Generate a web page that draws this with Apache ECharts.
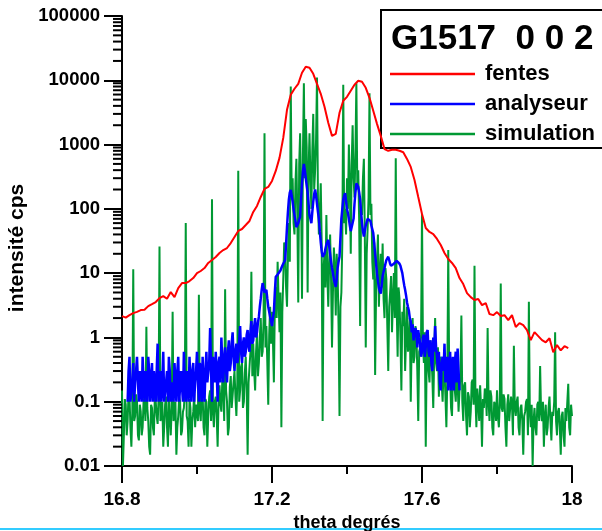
<!DOCTYPE html>
<html><head><meta charset="utf-8">
<script src="https://cdn.jsdelivr.net/npm/echarts@6/dist/echarts.min.js"></script>
<style>html,body{margin:0;padding:0;background:#fff}#c{width:602px;height:531px}</style>
</head><body><div id="c"></div>
<script>
const FONT = '"Liberation Sans", Arial, sans-serif';
const xTickLabels = ['16.8', '17.2', '17.6', '18'];
const yTickLabels = ['0.01', '0.1', '1', '10', '100', '1000', '10000', '100000'];
const seriesNames = ['fentes', 'analyseur', 'simulation'];
const minorMantissas = [2, 3, 4, 5, 6, 7, 8, 9];

const fentesStart = 16.8, fentesStep = 0.01;
const fentes = [
  2.15, 2.03, 2.22, 2.39, 2.5, 2.66, 2.7, 3.07, 3.3, 3.55,
  4.09, 4.4, 4.0, 5.08, 4.24, 5.86, 7.0, 7.0, 7.53, 8.39,
  10.0, 10.8, 12.0, 14.4, 16.0, 17.8, 20.6, 22.9, 24.6, 29.4,
  36.5, 45.3, 48.6, 56.1, 64.8, 89.5, 111, 153, 204, 219,
  272, 389, 621, 1271, 3472, 5940, 7380, 8810, 13090, 16230,
  15650, 12620, 8810, 6160, 3870, 2180, 1366, 1468, 3120, 4800,
  5530, 6860, 8510, 9820, 9460, 7640, 5340, 3350, 2100, 1366,
  850, 800, 830, 830, 800, 760, 598, 449, 282, 153,
  83.3, 50.4, 43.7, 40.6, 34.0, 27.4, 20.6, 16.6, 14.4, 12.0,
  8.39, 6.76, 4.90, 4.24, 3.81, 3.95, 3.18, 3.43, 2.31, 2.22,
  2.48, 2.15, 2.22, 1.86, 2.22, 1.45, 1.67, 1.55, 1.30, 0.91,
  1.21, 1.05, 0.91, 0.84, 0.97, 0.59, 0.76, 0.63, 0.73, 0.68
];

const analyseurStart = 16.815, analyseurStep = 0.0025;
const analyseur = [
  0.1, 0.3, 0.5, 0.1, 0.1, 0.2, 0.4, 0.1, 0.2, 0.3, 0.5, 0.2, 0.1, 0.3, 0.3, 0.1, 0.5, 0.2, 0.1, 0.3,
  0.2, 0.1, 0.5, 0.3, 0.1, 0.2, 0.4, 0.1, 0.3, 0.2, 0.1, 0.3, 0.8, 0.1, 0.2, 0.3, 0.1, 0.2, 0.6, 0.1,
  0.1, 0.2, 0.3, 0.1, 0.5, 0.3, 0.1, 0.2, 0.2, 0.1, 0.4, 0.2, 0.1, 0.3, 0.5, 0.1, 0.1, 0.3, 0.3, 0.1,
  0.6, 0.2, 0.1, 0.3, 0.2, 0.1, 0.5, 0.2, 0.1, 0.3, 0.4, 0.1, 0.2, 0.3, 0.6, 0.2, 0.1, 0.4, 0.3, 0.1,
  0.5, 0.2, 0.1, 0.3, 0.6, 0.2, 0.2, 0.4, 1.4, 0.3, 0.1, 0.5, 0.3, 0.2, 0.6, 0.3, 0.1, 0.4, 0.5, 0.2,
  1.0, 0.4, 0.2, 0.5, 0.7, 0.3, 0.2, 0.6, 0.9, 0.3, 0.4, 0.8, 1.2, 0.5, 0.3, 0.6, 0.8, 0.4, 0.5, 0.9,
  1.5, 0.6, 0.4, 0.8, 1.0, 0.5, 0.6, 1.1, 1.3, 0.7, 0.6, 1.2, 1.8, 0.8, 0.9, 1.5, 2.0, 1.0, 1.2, 1.7,
  2.1, 3.0, 4.0, 5.5, 7.0, 6.0, 5.0, 5.2, 5.5, 4.0, 3.0, 2.5, 2.1, 1.8, 1.5, 2.0, 2.5, 5.0, 8.8, 9.0,
  9.5, 9.8, 10, 11, 12, 13, 14, 15, 16, 28, 52, 90, 140, 180, 196, 160, 130, 100, 80, 65,
  52, 55, 60, 68, 75, 140, 250, 380, 500, 400, 300, 230, 180, 120, 80, 70, 60, 90, 130, 170,
  200, 160, 120, 90, 70, 45, 30, 22, 18, 19, 20, 24, 28, 30, 33, 26, 20, 15, 12, 10,
  8, 7, 6.1, 8, 12, 15, 18, 35, 70, 100, 140, 160, 175, 130, 100, 85, 70, 55, 45, 45,
  45, 70, 120, 180, 250, 240, 220, 180, 140, 90, 60, 45, 37, 45, 55, 62, 70, 72, 75, 65,
  55, 48, 42, 30, 20, 14, 9.9, 7.5, 6, 5.2, 4.8, 6.5, 9, 10.5, 12, 14, 16, 17, 18, 16,
  14, 13, 12.6, 13, 14, 14.5, 15, 15.5, 16, 15, 14, 13, 12.6, 10, 8, 6.5, 5.5, 4.5, 3.5, 3.0,
  2.6, 2.0, 1.8, 1.2, 1.6, 0.9, 0.9, 1.4, 1.2, 0.7, 1.3, 1.0, 0.8, 0.5, 0.6, 1.0, 1.1, 0.5, 0.7, 1.2,
  1.3, 0.6, 0.5, 0.9, 0.4, 0.3, 1.0, 0.6, 1.5, 0.7, 0.5, 0.3, 0.6, 0.2, 0.15, 0.4, 0.5, 0.3, 0.8, 0.2,
  0.2, 0.5, 0.15, 0.3, 0.6, 0.15, 0.3, 0.5, 0.15, 0.4, 0.6, 0.2, 0.67, 0.3, 0.15
];

const simulationStart = 16.8, simulationStep = 0.0025;
const simulation = [
  0.15, 0.01, 0.03, 0.11, 0.09, 0.03, 0.05, 0.14, 0.12, 0.04, 0.02, 0.07, 11.5, 0.05, 0.06, 0.13, 0.1, 0.03, 0.025, 0.09,
  0.07, 0.03, 0.04, 0.1, 0.12, 0.05, 1.46, 0.08, 0.05, 0.02, 0.015, 0.09, 0.08, 0.04, 0.03, 0.12, 0.1, 0.06, 0.045, 0.11,
  26, 0.05, 0.06, 0.1, 0.02, 0.04, 0.09, 0.12, 0.04, 0.02, 0.13, 0.06, 0.03, 0.08, 2.5, 0.05, 0.07, 0.1, 0.015, 0.04,
  0.06, 0.12, 0.1, 0.03, 0.035, 0.07, 0.08, 0.14, 60, 0.06, 0.05, 0.02, 0.11, 0.08, 0.02, 0.05, 0.07, 0.13, 0.04, 0.09,
  0.09, 0.05, 4.6, 0.07, 0.05, 0.16, 0.13, 0.04, 0.03, 0.11, 0.1, 0.02, 0.06, 0.12, 0.15, 0.05, 141, 0.07, 0.04, 0.1,
  0.12, 0.06, 0.02, 0.1, 0.18, 0.09, 0.07, 0.22, 0.2, 0.05, 5.6, 0.15, 0.1, 0.03, 0.04, 0.17, 0.25, 0.08, 0.08, 0.2,
  0.3, 0.12, 0.06, 0.2, 390, 0.1, 0.15, 0.35, 0.4, 0.08, 0.1, 0.28, 0.5, 0.15, 0.015, 0.2, 0.35, 0.6, 10.5, 0.25,
  0.8, 0.3, 0.15, 0.6, 1.2, 0.25, 0.4, 1.0, 2.0, 0.5, 0.6, 1.8, 1500, 0.7, 1.5, 0.4, 0.09, 1.1, 3.0, 0.8,
  2.5, 0.9, 0.2, 3, 6, 2, 15, 4, 1.2, 5, 0.04, 2.5, 8, 30, 25, 6, 3, 20, 60, 15,
  8000, 150, 300, 60, 40, 250, 600, 80, 3.5, 500, 1500, 200, 4, 700, 9000, 300, 2500, 900, 5, 400,
  1500, 300, 100, 800, 3000, 200, 400, 1200, 11000, 150, 40, 90, 250, 30, 0.05, 12, 20, 6, 80, 10,
  3, 15, 40, 8, 0.7, 5, 25, 12, 2.2, 20, 10, 1.5, 0.06, 3, 5, 30, 8500, 60, 100, 40,
  300, 100, 1000, 250, 20, 500, 2000, 300, 150, 800, 9000, 200, 400, 60, 1.5, 100, 80, 300, 600, 40,
  0.7, 20, 50, 150, 6300, 80, 120, 15, 8, 30, 0.26, 5, 15, 40, 3, 10, 20, 6, 29, 4,
  2, 12, 8, 1.5, 0.3, 3, 5, 9, 1.2, 4, 10, 2, 610, 3, 0.5, 6, 4, 1, 0.15, 2.5,
  1.5, 4, 0.3, 1, 3, 0.6, 0.8, 2, 0.1, 0.9, 2, 0.4, 0.5, 1.5, 1.2, 0.3, 0.05, 0.6, 0.7, 1.1,
  85, 0.8, 0.4, 1.2, 0.02, 0.5, 1.0, 0.3, 0.2, 0.9, 0.6, 0.25, 0.08, 0.5, 2.0, 0.4, 0.3, 0.7, 0.12, 0.45,
  0.5, 0.2, 0.1, 0.35, 0.3, 0.12, 0.04, 0.25, 23, 0.3, 0.25, 0.08, 0.06, 0.3, 0.4, 0.15, 0.1, 0.28, 0.2, 0.07,
  0.15, 0.25, 2.2, 0.1, 0.05, 0.18, 0.2, 0.06, 0.03, 0.14, 0.12, 0.04, 0.07, 0.2, 0.22, 0.09, 13, 0.12, 0.04, 0.16,
  0.1, 0.05, 0.18, 0.08, 0.02, 0.11, 0.08, 0.16, 0.14, 0.06, 1.4, 0.1, 0.05, 0.15, 0.12, 0.04, 0.03, 0.1, 0.09, 0.05,
  0.15, 0.06, 0.04, 0.1, 6.9, 0.08, 0.07, 0.13, 0.11, 0.04, 0.02, 0.09, 0.13, 0.05, 0.05, 0.12, 0.09, 0.03, 0.74, 0.08,
  0.06, 0.1, 0.12, 0.04, 0.03, 0.08, 0.09, 0.05, 0.015, 0.06, 0.07, 0.1, 0.11, 0.03, 3.6, 0.07, 0.04, 0.09, 0.01, 0.05,
  0.08, 0.04, 0.03, 0.09, 0.1, 0.05, 0.36, 0.07, 0.05, 0.1, 0.02, 0.06, 0.09, 0.03, 0.04, 0.08, 0.12, 0.05, 0.025, 0.07,
  0.06, 0.1, 1.2, 0.05, 0.03, 0.07, 0.08, 0.04, 0.015, 0.06, 0.07, 0.03, 0.02, 0.08, 0.05, 0.1, 0.19, 0.04, 0.03, 0.09, 0.06
];

function pairs(start, step, ys) {
  return ys.map((y, i) => [Math.round((start + step * i) * 100000) / 100000, y]);
}
const X_MIN = 16.8, X_MAX = 18, X_INT = 0.4;
const minorTickValues = [];
yTickLabels.slice(0, -1).forEach(d => minorMantissas.forEach(m => minorTickValues.push(m * Number(d))));

const chart = echarts.init(document.getElementById('c'), null, {renderer: 'canvas'});
chart.setOption({
  animation: false,
  backgroundColor: '#fff',
  textStyle: {fontFamily: FONT},
  title: {
    text: 'G1517  0 0 2', left: 391, top: 22, padding: 0,
    textStyle: {fontSize: 35, fontWeight: 'bold', color: '#000', fontFamily: FONT}
  },
  legend: {
    data: seriesNames, orient: 'vertical', left: 381, top: 10,
    padding: [53, 45, 3, 9], itemGap: 8, itemWidth: 85, itemHeight: 2.5, icon: 'rect',
    borderColor: '#000', borderWidth: 2, backgroundColor: '#fff', selectedMode: false,
    textStyle: {fontSize: 22, fontWeight: 'bold', color: '#000', fontFamily: FONT, padding: [0, 0, 0, 5]}
  },
  grid: {left: 122, top: 16, right: 30, bottom: 65, containLabel: false, outerBoundsMode: 'none'},
  xAxis: {
    type: 'value', min: X_MIN, max: X_MAX, interval: X_INT,
    axisLine: {lineStyle: {color: '#000', width: 2}},
    axisTick: {length: 17, lineStyle: {color: '#000', width: 2}},
    minorTick: {show: true, splitNumber: 2, length: 8, lineStyle: {color: '#000', width: 2}},
    splitLine: {show: false}, minorSplitLine: {show: false},
    axisLabel: {
      margin: 24, fontSize: 19, fontWeight: 'bold', color: '#000', fontFamily: FONT,
      formatter: v => xTickLabels[Math.round((v - X_MIN) / X_INT)]
    },
    name: 'theta degrés', nameLocation: 'middle', nameGap: 44,
    nameTextStyle: {fontSize: 18, fontWeight: 'bold', color: '#000', fontFamily: FONT}
  },
  yAxis: {
    type: 'log', logBase: 10, min: 0.01, max: 100000,
    axisLine: {lineStyle: {color: '#000', width: 2}},
    axisTick: {length: 18, lineStyle: {color: '#000', width: 2}},
    splitLine: {show: false},
    axisLabel: {
      margin: 22, fontSize: 18.5, fontWeight: 'bold', color: '#000', fontFamily: FONT,
      formatter: v => yTickLabels[Math.round(Math.log10(v)) + 2]
    },
    name: 'intensité cps', nameLocation: 'middle', nameGap: 91,
    nameTextStyle: {fontSize: 21, fontWeight: 'bold', color: '#000', fontFamily: FONT, padding: [0, 14, 0, 0]}
  },
  graphic: [{type: 'rect', left: 0, top: 528, shape: {width: 602, height: 2}, style: {fill: '#33ccff'}, silent: true}],
  series: [
    {
      name: 'simulation', type: 'line', data: pairs(simulationStart, simulationStep, simulation),
      showSymbol: false, symbol: 'none', color: '#009933', lineStyle: {color: '#009933', width: 2}, z: 2
    },
    {
      name: 'analyseur', type: 'line', data: pairs(analyseurStart, analyseurStep, analyseur),
      showSymbol: false, symbol: 'none', color: '#0000ff', lineStyle: {color: '#0000ff', width: 2.5}, z: 3
    },
    {
      name: 'fentes', type: 'line', data: pairs(fentesStart, fentesStep, fentes),
      showSymbol: false, symbol: 'none', color: '#ff0000', lineStyle: {color: '#ff0000', width: 2}, z: 4
    },
    {
      name: '_minorTicks', type: 'custom', silent: true, clip: false, z: 5,
      data: minorTickValues.map(v => [X_MIN, v]), encode: {x: 0, y: 1},
      renderItem: (params, api) => {
        const p = api.coord([api.value(0), api.value(1)]);
        return {type: 'line', shape: {x1: p[0] - 9, y1: p[1], x2: p[0], y2: p[1]}, style: {stroke: '#000', lineWidth: 2}};
      }
    }
  ]
});
</script></body></html>
